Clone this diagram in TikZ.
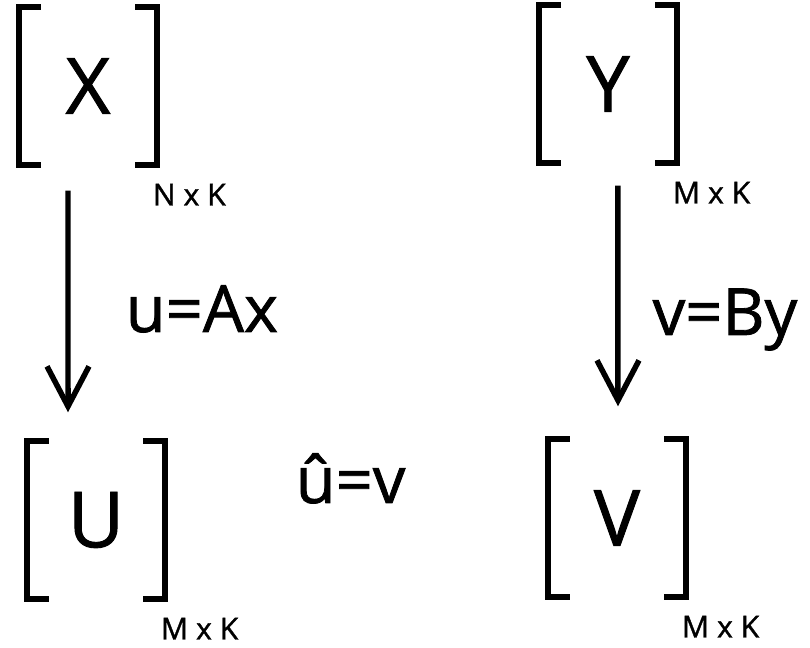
\documentclass[tikz,border=0pt]{standalone}
\usepackage{fontspec}
\setmainfont{Open Sans}[FakeBold=1.2]
\usetikzlibrary{arrows.meta}
\begin{document}
\begin{tikzpicture}[
        mat/.style={minimum width=1.37cm,minimum height=1.57cm,inner sep=0pt,font=\fontsize{22}{26}\selectfont},
        dim/.style={anchor=north west,inner sep=0pt,font=\fontsize{8.6}{10}\selectfont},
        lbl/.style={anchor=base west,inner sep=0pt,font=\fontsize{18.5}{22}\selectfont},
        brk/.style={line width=0.06cm},
        map/.style={line width=0.055cm,-{Straight Barb[length=4mm,width=4.2mm]}}
    ]
    \useasboundingbox (0,0) rectangle (8.1,6.48);

    \node[mat] (X) at (0.88,5.62) {X};
    \node[mat] (Y) at (6.08,5.64) {Y};
    \node[mat] (U) at (0.96,1.28) {U};
    \node[mat] (V) at (6.17,1.30) {V};

    % square brackets round each matrix
    \foreach \m in {X,Y,U,V} {
        \draw[brk] ([xshift=2.2mm]\m.north west) -- (\m.north west) -- (\m.south west) -- ([xshift=2.2mm]\m.south west);
        \draw[brk] ([xshift=-2.2mm]\m.north east) -- (\m.north east) -- (\m.south east) -- ([xshift=-2.2mm]\m.south east);
    }

    \node[dim] (dX) at ([xshift=-0.5mm,yshift=-1.8mm]X.south east) {N x K};
    \node[dim] (dY) at ([xshift=-0.5mm,yshift=-1.8mm]Y.south east) {M x K};
    \node[dim] (dU) at ([xshift=-0.5mm,yshift=-1.8mm]U.south east) {M x K};
    \node[dim] (dV) at ([xshift=-0.5mm,yshift=-1.8mm]V.south east) {M x K};

    \draw[map] ([xshift=-2mm,yshift=-2.55mm]X.south) -- ([xshift=-2.8mm,yshift=2.85mm]U.north);
    \draw[map] ([xshift=1mm,yshift=-2.25mm]Y.south) -- ([xshift=0.1mm,yshift=3.25mm]V.north);

    \node[lbl] (fA) at (1.25,3.16) {u=Ax};
    \node[lbl] (fB) at (6.52,3.13) {v=By};
    \node[lbl] (eq) at (2.95,1.45) {û=v};

\end{tikzpicture}
\end{document}
